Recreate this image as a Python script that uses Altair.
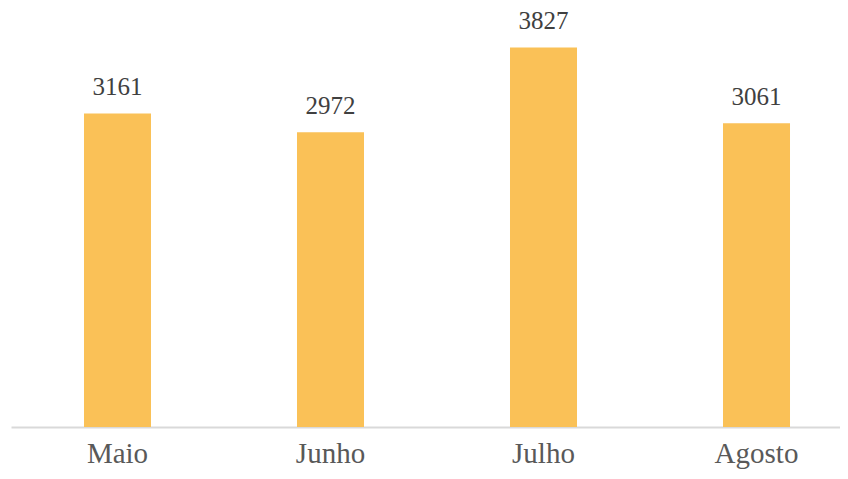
import altair as alt
import pandas as pd

months = ["Maio", "Junho", "Julho", "Agosto"]
values = [3161, 2972, 3827, 3061]

df = pd.DataFrame({"mes": months, "valor": values})

base = alt.Chart(df).encode(
    x=alt.X(
        "mes:N",
        sort=months,
        title=None,
        scale=alt.Scale(paddingInner=0.6854, paddingOuter=0.2887, align=0.5935),
        axis=alt.Axis(
            labelAngle=0,
            labelFont="Liberation Serif",
            labelFontSize=29,
            labelColor="#595959",
            labelBaseline="alphabetic",
            labelPadding=35,
            ticks=False,
            tickSize=0,
            domainColor="#D9D9D9",
            domainWidth=2,
            grid=False,
        ),
    ),
    y=alt.Y(
        "valor:Q",
        title=None,
        scale=alt.Scale(domain=[0, 4224], nice=False),
        axis=None,
    ),
)

bars = base.mark_bar(color="#FAC157")

labels = base.mark_text(
    font="Liberation Serif",
    fontSize=25,
    color="#404040",
    baseline="alphabetic",
    dy=-18,
).encode(text="valor:Q")

chart = (
    (bars + labels)
    .properties(
        width=829,
        height=419,
        background="white",
        autosize=alt.AutoSizeParams(type="none"),
        padding={"left": 3, "top": 0, "right": 0, "bottom": 44},
    )
    .configure_view(stroke="transparent", strokeWidth=0)
)

chart.save("out.html", embed_options={"renderer": "svg", "actions": False})
